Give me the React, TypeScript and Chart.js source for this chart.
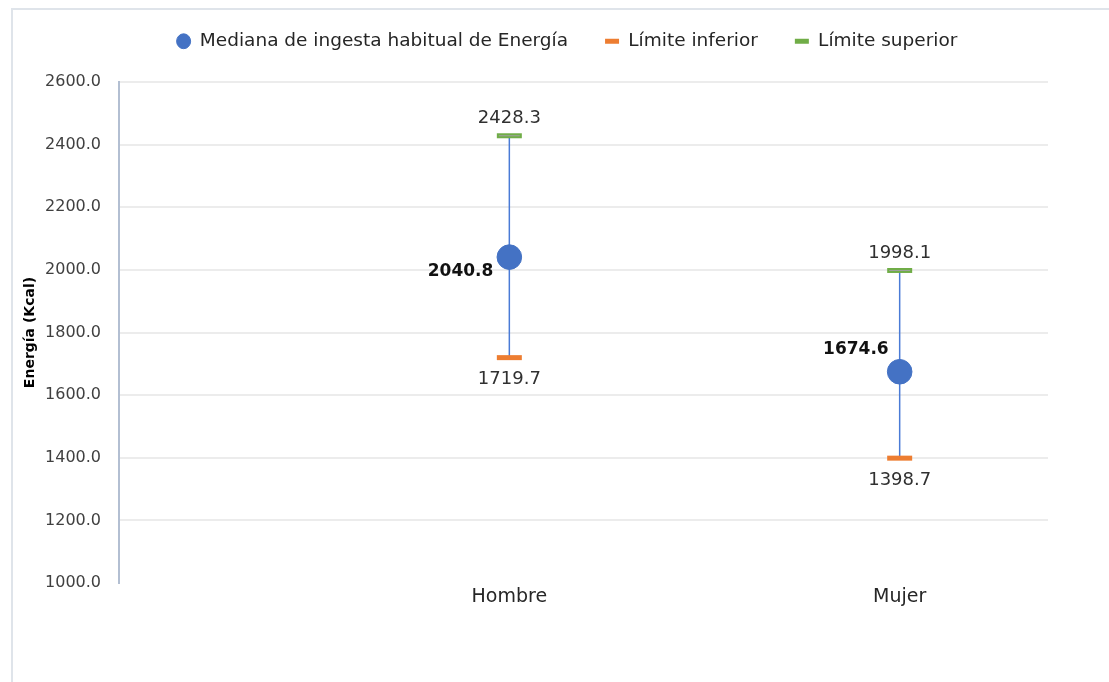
import React, { useEffect, useRef } from 'react';
import { Chart, registerables } from 'chart.js';

Chart.register(...registerables);

// ---- Data ----
const categories = ['Hombre', 'Mujer'];
const medianValues = [2040.8, 1674.6];
const lowerValues = [1719.7, 1398.7];
const upperValues = [2428.3, 1998.1];
const yTickValues = [1000, 1200, 1400, 1600, 1800, 2000, 2200, 2400, 2600];
const seriesNames = ['Mediana de ingesta habitual de Energía', 'Límite inferior', 'Límite superior'];
const yTitle = 'Energía (Kcal)';

// ---- Styles ----
const BLUE = '#4472C4';
const ORANGE = '#ED7D31';
const GREEN = '#70AD47';
const medianLabelShift = [
  [-16, 14],
  [-11, -22],
];

const toPoints = (vals: number[]) => vals.map((y, i) => ({ x: i + 1, y }));

const rangeLines = {
  id: 'rangeLines',
  beforeDatasetsDraw(chart: any) {
    const ctx = chart.ctx;
    const lo = chart.getDatasetMeta(1).data;
    const up = chart.getDatasetMeta(2).data;
    ctx.save();
    ctx.strokeStyle = '#4a7bd6';
    ctx.lineWidth = 1.5;
    up.forEach((p: any, i: number) => {
      ctx.beginPath();
      ctx.moveTo(p.x, p.y);
      ctx.lineTo(lo[i].x, lo[i].y);
      ctx.stroke();
    });
    ctx.restore();
  },
};

const valueLabels = {
  id: 'valueLabels',
  afterDatasetsDraw(chart: any) {
    const ctx = chart.ctx;
    const m = chart.getDatasetMeta(0).data;
    const lo = chart.getDatasetMeta(1).data;
    const up = chart.getDatasetMeta(2).data;
    ctx.save();
    // grey core of the upper-limit markers
    ctx.strokeStyle = '#a0a0a0';
    ctx.lineWidth = 1;
    up.forEach((p: any) => {
      ctx.beginPath();
      ctx.moveTo(p.x - 10.5, p.y);
      ctx.lineTo(p.x + 10.5, p.y);
      ctx.stroke();
    });
    ctx.textBaseline = 'middle';
    ctx.textAlign = 'center';
    ctx.font = '18px "DejaVu Sans"';
    ctx.fillStyle = '#303030';
    up.forEach((p: any, i: number) => ctx.fillText(upperValues[i].toFixed(1), p.x, p.y - 17));
    lo.forEach((p: any, i: number) => ctx.fillText(lowerValues[i].toFixed(1), p.x, p.y + 22));
    ctx.font = 'bold 17px "DejaVu Sans"';
    ctx.fillStyle = '#111111';
    ctx.textAlign = 'right';
    m.forEach((p: any, i: number) =>
      ctx.fillText(medianValues[i].toFixed(1), p.x + medianLabelShift[i][0], p.y + medianLabelShift[i][1])
    );
    ctx.restore();
  },
};

const legendFit = {
  id: 'legendFit',
  beforeLayout(chart: any) {
    const lg = chart.legend;
    if (lg && !lg.__patched) {
      const orig = lg.fit.bind(lg);
      lg.fit = function () {
        orig();
        this.height = 82;
      };
      lg.__patched = true;
    }
  },
  afterLayout(chart: any) {
    const lg = chart.legend;
    if (lg) {
      lg.left += 34;
      lg.right += 34;
      lg.top -= 5;
      lg.bottom -= 5;
    }
  },
};

export default function App() {
  const ref = useRef<HTMLCanvasElement | null>(null);

  useEffect(() => {
    if (!ref.current) return;
    const chart = new Chart(ref.current, {
      type: 'scatter',
      data: {
        datasets: [
          {
            label: seriesNames[0],
            data: toPoints(medianValues),
            pointStyle: 'circle',
            pointRadius: 12.3,
            pointHoverRadius: 12.3,
            backgroundColor: BLUE,
            borderColor: BLUE,
            pointBorderWidth: 1,
            borderWidth: 1,
          },
          {
            label: seriesNames[1],
            data: toPoints(lowerValues),
            pointStyle: 'line',
            pointRadius: 12.5,
            pointHoverRadius: 12.5,
            backgroundColor: ORANGE,
            borderColor: ORANGE,
            pointBorderWidth: 5,
            borderWidth: 5,
          },
          {
            label: seriesNames[2],
            data: toPoints(upperValues),
            pointStyle: 'line',
            pointRadius: 12.5,
            pointHoverRadius: 12.5,
            backgroundColor: GREEN,
            borderColor: GREEN,
            pointBorderWidth: 5,
            borderWidth: 5,
          },
        ],
      },
      options: {
        animation: false,
        responsive: false,
        events: [],
        layout: { padding: { left: 18, right: 61, top: 0, bottom: 0 } },
        plugins: {
          tooltip: { enabled: false },
          legend: {
            position: 'top',
            align: 'center',
            labels: {
              usePointStyle: true,
              pointStyleWidth: 14,
              boxHeight: 10.5,
              padding: 37,
              color: '#262626',
              font: { family: 'DejaVu Sans', size: 18.5 },
            },
          },
        },
        scales: {
          x: {
            type: 'linear',
            min: 0,
            max: 2.38,
            afterBuildTicks: (s: any) => {
              s.ticks = categories.map((_, i) => ({ value: i + 1 }));
            },
            afterFit: (s: any) => {
              s.height = 99;
            },
            ticks: {
              padding: 3,
              autoSkip: false,
              maxRotation: 0,
              color: '#262626',
              font: { family: 'DejaVu Sans', size: 19 },
              callback: (v: any) => categories[Number(v) - 1] ?? '',
            },
            grid: { display: false, drawTicks: false },
            border: { display: false },
          },
          y: {
            min: 1000,
            max: 2600,
            afterBuildTicks: (s: any) => {
              s.ticks = yTickValues.map((v) => ({ value: v }));
            },
            afterFit: (s: any) => {
              s.width = 101;
            },
            ticks: {
              padding: 18,
              color: '#404040',
              font: { family: 'DejaVu Sans', size: 16 },
              callback: (v: any) => Number(v).toFixed(1),
            },
            grid: {
              drawTicks: false,
              lineWidth: 2,
              color: (c: any) => (c.tick && c.tick.value === 1000 ? 'rgba(0,0,0,0)' : '#ececec'),
            },
            border: { display: true, color: '#b3bfd2', width: 2 },
            title: {
              display: true,
              text: yTitle,
              color: '#000000',
              font: { family: 'DejaVu Sans', size: 14, weight: 'bold' },
              padding: { top: 4, bottom: 4 },
            },
          },
        },
      },
      plugins: [legendFit, rangeLines, valueLabels],
    } as any);
    return () => chart.destroy();
  }, []);

  return (
    <div style={{ position: 'fixed', left: 0, top: 0, width: 1109, height: 682, background: '#ffffff', overflow: 'hidden' }}>
      <div
        style={{
          position: 'absolute',
          left: 11,
          top: 8,
          right: -10,
          bottom: -10,
          borderLeft: '2px solid #dfe4ea',
          borderTop: '2px solid #dfe4ea',
        }}
      />
      <canvas ref={ref} width={1109} height={682} style={{ position: 'absolute', left: 0, top: 0 }} />
    </div>
  );
}
